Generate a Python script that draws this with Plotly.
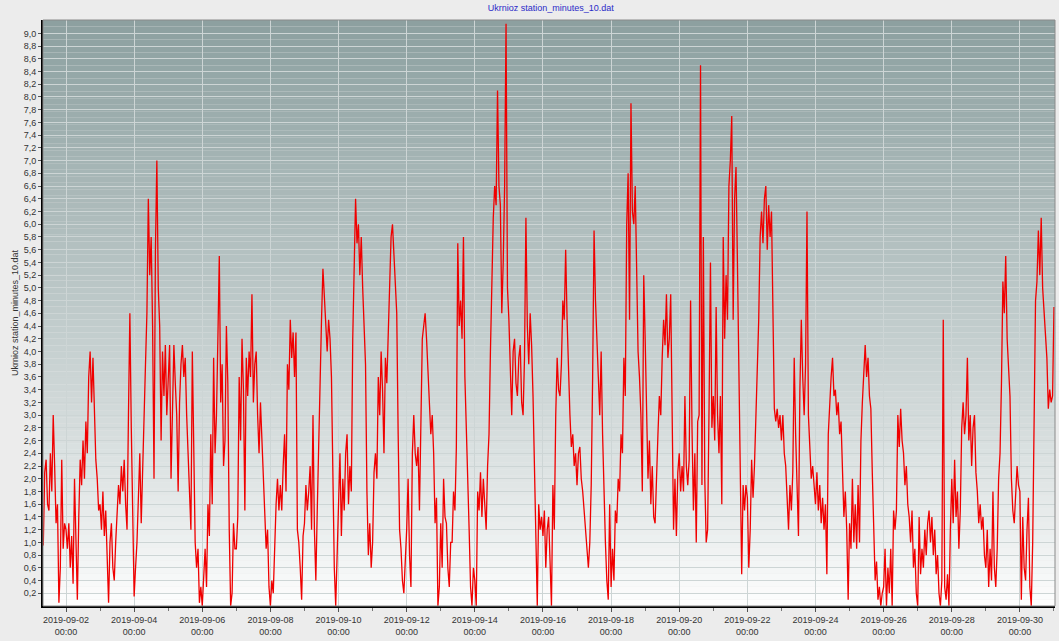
import pandas as pd
import plotly.graph_objects as go

# ---- data: wind values, hourly steps starting 2019-09-01 08:00 ----
d0901 = [0.95, 2.1, 2.3, 1.6, 1.5, 2.4, 1.8, 3.0, 2.2, 1.3, 1.6, 0.05, 0.6, 2.3, 0.9, 1.3]
d0902 = [1.2, 0.9, 1.3, 0.6, 1.1, 0.35, 2.0, 0.8, 0.1, 1.4, 2.3, 1.9,
         2.6, 2.0, 2.9, 2.4, 3.6, 4.0, 3.2, 3.9, 2.9, 2.3, 2.0, 1.5]
d0903 = [1.6, 1.2, 1.8, 1.1, 1.5, 0.6, 0.05, 1.0, 1.3, 0.6, 0.4, 1.0,
         1.5, 1.9, 1.6, 2.2, 1.8, 2.3, 1.6, 1.2, 3.0, 4.6, 2.8, 1.2]
d0904 = [0.15, 0.6, 1.0, 1.7, 2.4, 1.3, 2.3, 2.9, 3.8, 4.6, 6.4, 5.2,
         5.8, 4.4, 2.0, 5.6, 7.0, 5.0, 4.4, 2.6, 4.0, 3.3, 4.1, 3.0]
d0905 = [3.6, 4.1, 2.0, 3.4, 4.1, 3.5, 3.0, 1.8, 3.2, 3.8, 4.1, 3.6,
         3.9, 3.0, 2.4, 1.8, 1.2, 4.0, 2.0, 1.0, 0.6, 0.9, 0.05, 0.3]
d0906 = [0.0, 0.4, 0.9, 0.3, 1.6, 1.1, 2.7, 1.6, 3.9, 2.4, 3.0, 4.2,
         5.5, 3.2, 3.8, 2.2, 2.6, 4.4, 3.5, 1.2, 0.0, 0.2, 1.3, 0.9]
d0907 = [0.9, 1.4, 3.6, 2.6, 4.2, 3.4, 1.5, 3.9, 3.3, 4.0, 3.6, 4.9,
         3.2, 3.8, 4.0, 3.0, 2.4, 3.2, 2.6, 2.2, 1.4, 0.9, 1.2, 0.3]
d0908 = [0.0, 0.4, 0.2, 1.1, 1.6, 2.0, 1.5, 1.9, 1.5, 2.2, 2.7, 1.8,
         3.8, 3.4, 4.5, 3.9, 4.3, 3.6, 4.3, 1.2, 1.0, 0.6, 0.1, 1.1]
d0909 = [1.3, 1.9, 1.5, 1.8, 2.2, 1.2, 3.0, 1.2, 0.4, 1.5, 2.6, 3.9,
         4.5, 5.3, 4.8, 4.3, 4.0, 4.5, 4.2, 3.6, 1.8, 0.6, 0.0, 0.8]
d0910 = [1.2, 2.4, 1.1, 2.0, 1.5, 2.4, 2.7, 1.6, 2.2, 1.8, 4.2, 5.5,
         6.4, 5.7, 6.0, 5.2, 5.8, 5.0, 4.4, 3.8, 1.8, 0.8, 1.3, 0.6]
d0911 = [1.0, 2.1, 2.4, 2.0, 3.6, 3.0, 4.0, 3.4, 2.4, 3.9, 3.5, 4.4,
         5.2, 5.8, 6.0, 5.5, 5.1, 4.6, 2.7, 1.2, 0.9, 0.4, 0.2, 0.6]
d0912 = [1.2, 2.0, 0.8, 0.3, 2.4, 3.0, 2.4, 2.2, 2.5, 1.5, 2.8, 4.2,
         4.4, 4.6, 4.2, 3.6, 3.2, 2.7, 3.0, 2.4, 1.3, 1.7, 0.0, 0.3]
d0913 = [1.3, 0.6, 2.0, 1.4, 1.3, 0.6, 0.3, 1.0, 1.0, 1.8, 1.5, 2.5,
         5.7, 4.4, 4.8, 4.2, 5.8, 3.6, 2.8, 2.1, 1.2, 0.3, 0.0, 0.6]
d0914 = [0.4, 0.0, 1.8, 1.5, 2.1, 1.4, 2.0, 1.6, 1.2, 2.2, 2.7, 4.0,
         5.4, 6.1, 6.6, 6.3, 8.1, 6.6, 6.3, 4.6, 5.4, 6.6, 9.15, 5.0]
d0915 = [4.5, 3.6, 3.0, 4.0, 4.2, 3.5, 3.3, 3.9, 4.1, 3.2, 3.0, 3.9,
         6.1, 4.4, 3.8, 4.6, 4.1, 3.3, 2.1, 1.5, 0.0, 1.6, 1.2, 1.4]
d0916 = [1.1, 1.5, 0.6, 1.2, 1.4, 0.7, 0.0, 1.9, 1.2, 3.0, 3.9, 3.4,
         3.3, 3.8, 4.8, 4.5, 5.6, 4.5, 3.5, 3.0, 2.5, 2.7, 2.2, 2.4]
d0917 = [1.9, 2.4, 2.5, 2.0, 1.8, 1.5, 1.2, 0.8, 0.6, 1.0, 1.9, 3.6,
         5.9, 4.8, 4.3, 3.6, 3.0, 4.0, 2.7, 1.6, 1.0, 0.4, 0.1, 1.6]
d0918 = [0.3, 0.9, 0.4, 1.5, 1.3, 2.0, 1.8, 2.7, 2.4, 3.9, 3.3, 6.0,
         6.8, 4.5, 7.9, 6.2, 6.0, 6.6, 5.4, 4.0, 3.6, 3.0, 1.8, 5.2]
d0919 = [4.2, 2.8, 2.0, 2.6, 1.6, 2.2, 1.4, 1.3, 2.2, 2.7, 3.3, 3.0,
         3.9, 4.5, 4.1, 4.9, 3.9, 4.2, 4.9, 2.7, 1.2, 2.0, 1.1, 2.1]
d0920 = [2.4, 1.8, 2.2, 1.8, 3.3, 2.2, 1.9, 2.3, 4.8, 2.8, 1.5, 2.4,
         1.0, 2.9, 3.0, 8.5, 1.9, 5.8, 2.0, 1.0, 1.2, 3.1, 5.4, 2.8]
d0921 = [3.3, 2.6, 4.7, 3.0, 2.4, 3.3, 1.6, 5.8, 4.2, 5.2, 4.5, 6.6,
         7.0, 7.7, 4.5, 6.4, 6.9, 5.4, 4.0, 2.1, 0.5, 1.9, 1.5, 1.9]
d0922 = [1.7, 0.6, 1.2, 2.3, 1.7, 2.2, 3.0, 3.6, 4.5, 5.8, 6.2, 5.7,
         6.4, 6.6, 5.6, 6.3, 5.8, 6.2, 4.2, 3.1, 2.9, 3.1, 2.8, 3.0]
d0923 = [2.6, 3.0, 2.4, 2.2, 1.7, 1.2, 1.9, 1.5, 2.1, 3.9, 2.7, 1.9,
         1.1, 3.4, 4.5, 3.6, 3.0, 3.8, 6.2, 3.0, 2.6, 2.0, 2.2, 1.8]
d0924 = [1.6, 2.1, 1.5, 1.9, 1.3, 1.7, 1.2, 1.6, 0.5, 2.7, 3.3, 3.6,
         3.9, 3.3, 3.4, 3.0, 3.2, 2.7, 2.9, 2.0, 1.4, 1.8, 1.2, 0.1]
d0925 = [1.3, 0.9, 2.0, 1.0, 1.6, 0.9, 1.9, 1.0, 2.6, 3.2, 3.6, 4.1,
         3.6, 3.9, 3.3, 3.1, 2.1, 1.0, 0.4, 0.7, 0.1, 0.3, 0.0, 0.2]
d0926 = [0.3, 0.9, 0.0, 0.6, 0.2, 0.9, 0.0, 1.5, 1.2, 1.5, 3.0, 2.5,
         3.1, 2.6, 2.4, 1.9, 2.2, 1.6, 1.4, 1.0, 1.5, 0.6, 0.9, 0.2]
d0927 = [0.0, 1.4, 0.5, 0.9, 0.6, 1.2, 0.8, 1.3, 1.5, 1.0, 1.4, 0.8,
         1.2, 0.5, 0.8, 0.2, 0.0, 0.4, 4.5, 0.3, 0.1, 0.5, 0.0, 1.2]
d0928 = [2.0, 1.3, 2.3, 1.4, 1.8, 0.9, 1.5, 2.8, 3.2, 2.7, 3.0, 3.9,
         2.6, 3.0, 2.2, 2.8, 3.0, 2.1, 1.8, 1.3, 1.6, 1.2, 1.4, 0.8]
d0929 = [0.6, 1.2, 0.3, 0.9, 0.4, 1.8, 0.6, 0.3, 0.9, 2.0, 2.4, 3.5,
         5.1, 4.6, 5.5, 4.2, 3.8, 3.3, 2.0, 1.5, 1.3, 1.8, 2.2, 1.9]
d0930 = [1.8, 0.1, 1.4, 0.6, 0.4, 1.2, 1.7, 0.3, 0.0, 1.0, 3.4, 4.8,
         5.1, 5.9, 5.2, 6.1, 5.0, 4.6, 4.2, 3.9, 3.1, 3.4, 3.2, 3.3]
d1001 = [4.7]

days = [d0901, d0902, d0903, d0904, d0905, d0906, d0907, d0908, d0909, d0910,
        d0911, d0912, d0913, d0914, d0915, d0916, d0917, d0918, d0919, d0920,
        d0921, d0922, d0923, d0924, d0925, d0926, d0927, d0928, d0929, d0930, d1001]
values = [v for d in days for v in d]
times = pd.date_range("2019-09-01 08:00", periods=len(values), freq="1h")

title_text = "Ukrnioz station_minutes_10.dat"
y_ticks = [round(0.2 * i, 1) for i in range(1, 46)]

fig = go.Figure()
fig.add_trace(go.Scatter(x=times, y=values, mode="lines",
                         line=dict(color="#f00000", width=1.3), showlegend=False))

# gradient background of the plot area (styling only)
shapes = []
N = 90
top = (140, 160, 160)
bot = (255, 255, 255)
for i in range(N):
    f = ((i + 0.5) / N) ** 0.85  # 0 bottom -> 1 top
    c = tuple(int(round(bot[k] + (top[k] - bot[k]) * f)) for k in range(3))
    shapes.append(dict(type="rect", xref="paper", yref="paper",
                       x0=0, x1=1, y0=i / N, y1=(i + 1) / N,
                       fillcolor="rgb(%d,%d,%d)" % c, line=dict(width=0), layer="below"))
shapes.append(dict(type="rect", xref="paper", yref="paper", x0=0, x1=1, y0=0, y1=1,
                   line=dict(color="#8a8a8a", width=1), fillcolor="rgba(0,0,0,0)", layer="above"))

fig.update_layout(
    width=1059, height=641,
    margin=dict(l=43, r=4, t=20, b=27),
    paper_bgcolor="#ececec",
    plot_bgcolor="rgba(0,0,0,0)",
    separators=",.",
    font=dict(family="Liberation Sans, Arial, sans-serif", size=9, color="#333333"),
    title=dict(text=title_text, x=0.52, xanchor="center", y=0.992, yanchor="top",
               font=dict(size=9, color="#2b2bc8")),
    shapes=shapes,
    xaxis=dict(
        type="date",
        range=["2019-09-01 07:48", "2019-10-01 00:43"],
        tick0="2019-09-02", dtick=2 * 86400000,
        tickformat="%Y-%m-%d<br>%H:%M",
        showgrid=True, gridcolor="#cdd5d5", gridwidth=1,
        showline=True, linecolor="#000000", linewidth=2,
        ticks="outside", ticklen=4, tickcolor="#555555",
        minor=dict(dtick=86400000, ticks="outside", ticklen=3, tickcolor="#777777", showgrid=False),
        tickfont=dict(size=9, color="#333333"),
        zeroline=False,
    ),
    yaxis=dict(
        range=[0, 9.21],
        tickmode="array", tickvals=y_ticks, tickformat=".1f",
        showgrid=True, gridcolor="#cdd5d5", gridwidth=1,
        showline=True, linecolor="#000000", linewidth=2,
        ticks="outside", ticklen=3, tickcolor="#555555",
        tickfont=dict(size=9, color="#333333"),
        title=dict(text=title_text, font=dict(size=9, color="#333333"), standoff=4),
        zeroline=False,
    ),
)

fig.write_html("out.html")
